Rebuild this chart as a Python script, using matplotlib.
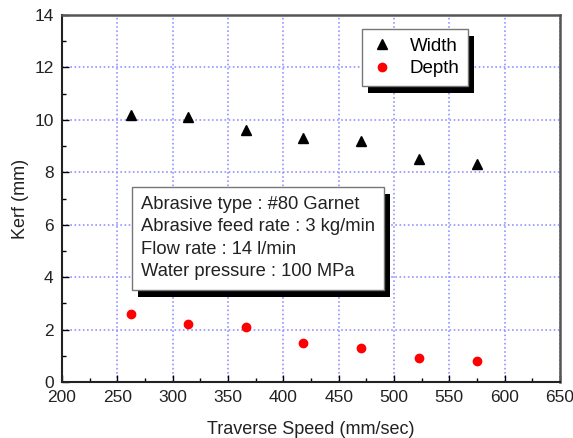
import matplotlib
matplotlib.use("Agg")
import matplotlib.pyplot as plt
from matplotlib.patches import Rectangle
from matplotlib.ticker import MultipleLocator

speed = [262, 314, 366, 418, 470, 523, 575]
width = [10.2, 10.1, 9.6, 9.3, 9.2, 8.5, 8.3]
depth = [2.6, 2.2, 2.1, 1.5, 1.3, 0.9, 0.8]
info_lines = ["Abrasive type : #80 Garnet",
              "Abrasive feed rate : 3 kg/min",
              "Flow rate : 14 l/min",
              "Water pressure : 100 MPa"]

plt.rcParams['font.family'] = ['Liberation Sans', 'DejaVu Sans']
plt.rcParams['font.size'] = 12

fig = plt.figure(figsize=(5.73, 4.38), dpi=100)
ax = fig.add_axes([62/573, 1-382/438, (560-62)/573, (382-15)/438])

ax.plot(speed, width, linestyle='none', marker='^', color='black', markersize=7, label='Width', zorder=3)
ax.plot(speed, depth, linestyle='none', marker='o', color='red', markersize=6, label='Depth', zorder=3)

ax.set_xlim(200, 650)
ax.set_ylim(0, 14)
ax.xaxis.set_major_locator(MultipleLocator(50))
ax.xaxis.set_minor_locator(MultipleLocator(25))
ax.yaxis.set_major_locator(MultipleLocator(2))
ax.yaxis.set_minor_locator(MultipleLocator(1))
ax.tick_params(which='major', direction='in', length=5, width=1, labelsize=12.5, colors='black', pad=6)
ax.tick_params(which='minor', direction='in', length=3, width=1)
ax.tick_params(axis='x', labelcolor='#222222')
ax.tick_params(axis='y', labelcolor='#222222')
ax.grid(True, which='major', linestyle=(0, (1, 1.5)), color='#9494ff', linewidth=1.2)
ax.set_axisbelow(True)

for s in ['left', 'bottom']:
    ax.spines[s].set_color('#222222')
    ax.spines[s].set_linewidth(1.5)
for s in ['top', 'right']:
    ax.spines[s].set_color('#555555')
    ax.spines[s].set_linewidth(1.8)

ax.set_xlabel('Traverse Speed (mm/sec)', fontsize=13, color='#222222', labelpad=11)
ax.set_ylabel('Kerf (mm)', fontsize=13, color='#222222', labelpad=4)

leg = ax.legend(loc='upper left', bbox_to_anchor=((362-62)/498, (382-29)/367),
                frameon=True, fancybox=False, edgecolor='#777777', framealpha=1,
                fontsize=13.5, handletextpad=0.9, borderpad=0.45, labelspacing=0.3,
                handlelength=1.2, borderaxespad=0)
leg.get_frame().set_linewidth(1.0)
leg.set_zorder(6)

txt = ax.text((141-62)/498, (382-196)/367, "\n".join(info_lines), transform=ax.transAxes,
              fontsize=13.2, color='#222222', va='top', ha='left', linespacing=1.42, zorder=6,
              bbox=dict(boxstyle='square,pad=0.5', fc='white', ec='#777777', lw=1.0))

fig.canvas.draw()
r = fig.canvas.get_renderer()
for bb in [leg.get_frame().get_window_extent(r), txt.get_bbox_patch().get_window_extent(r)]:
    sh = Rectangle((bb.x0 + 6, bb.y0 - 7), bb.width, bb.height, transform=None,
                   facecolor='black', edgecolor='none', zorder=5.5, clip_on=False)
    ax.add_artist(sh)

fig.savefig('out.png', dpi=100)
